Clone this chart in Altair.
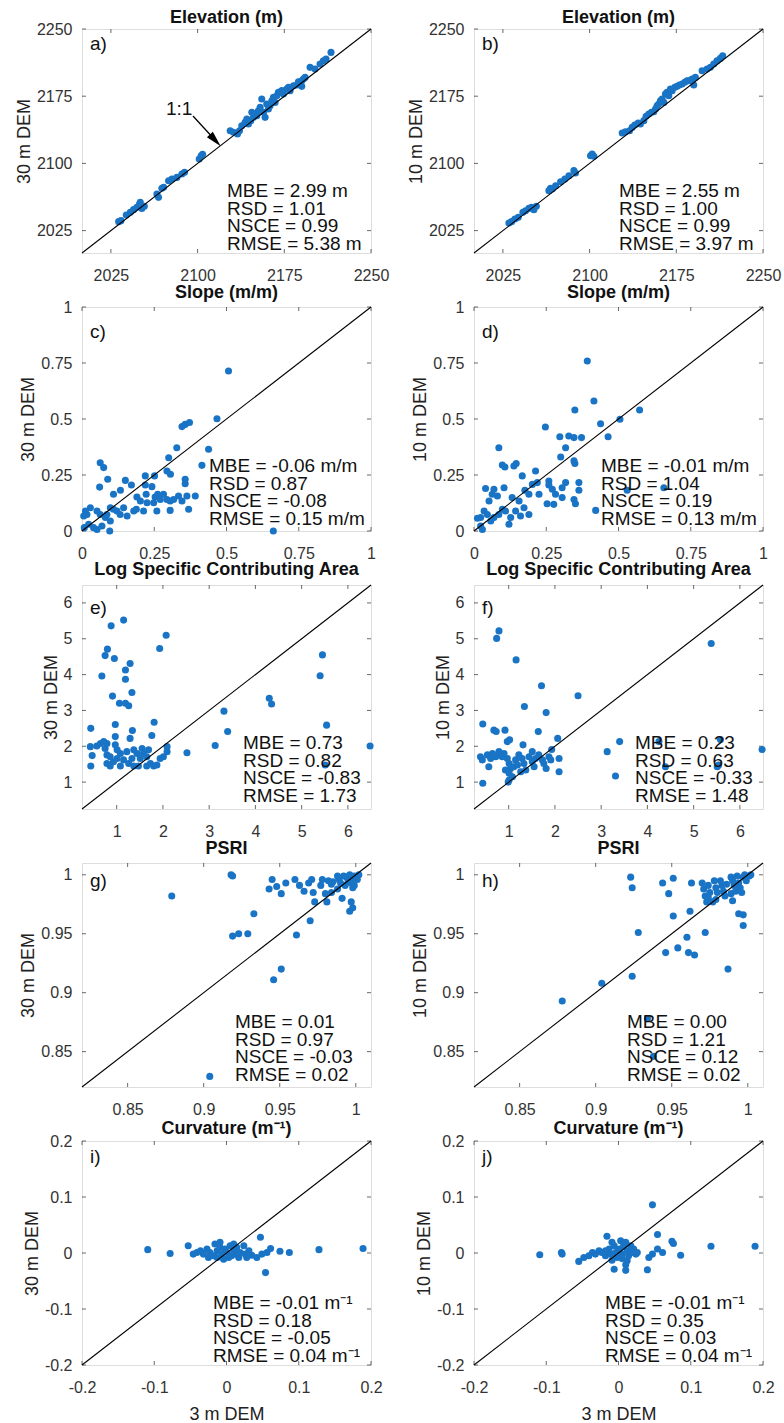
import altair as alt
import pandas as pd

FONT = "Liberation Sans"
DOT = "#1a74c5"

# ---------------- data (x = 3 m DEM, y = coarser DEM) ----------------
elev_30 = [(2031.7,2035.0),(2033.7,2036.1),(2038.3,2042.4),(2041.8,2045.4),(2044.6,2048.4),(2047.5,2051.0),(2049.8,2054.7),(2051.8,2049.8),(2053.9,2052.1),(2050.4,2056.5),
           (2066.2,2062.1),(2064.8,2065.8),(2069.1,2072.2),(2070.6,2073.3),(2074.9,2080.7),(2077.8,2082.6),(2082.1,2084.4),(2086.4,2088.2),(2088.7,2090.0),
           (2101.4,2104.9),(2103.1,2108.6),(2104.3,2110.1),
           (2128.2,2136.5),(2131.0,2134.7),(2134.5,2132.8),(2136.2,2136.5),(2138.2,2142.1),(2141.1,2145.8),(2144.0,2144.0),(2146.0,2147.7),(2148.3,2151.4),(2149.8,2155.1),
           (2152.6,2158.8),(2154.1,2162.6),(2157.0,2157.0),(2158.4,2151.4),(2155.5,2171.9),(2159.8,2166.3),(2162.7,2164.4),(2164.2,2170.0),(2165.6,2173.7),(2168.5,2175.6),
           (2169.9,2179.3),(2172.8,2181.2),(2174.2,2177.4),(2177.1,2183.0),(2178.6,2184.9),(2180.0,2181.2),(2182.9,2186.7),(2185.8,2187.5),(2187.2,2191.2),(2188.6,2188.6),
           (2190.1,2192.3),(2191.5,2194.2),(2193.0,2196.0),(2190.1,2186.0),(2197.3,2207.2),(2201.6,2205.3),(2205.9,2210.9),(2208.8,2214.6),(2211.1,2216.5),(2215.4,2223.9),
           (2151.2,2153.3),(2161.3,2160.7),(2167.0,2168.1),(2146.9,2157.0),(2142.6,2149.5)]
elev_10 = [(2030.2,2033.5),(2032.5,2035.0),(2035.4,2037.9),(2038.3,2039.8),(2042.3,2045.4),(2044.6,2047.2),(2047.5,2049.8),(2049.8,2051.0),(2051.8,2048.4),(2053.9,2052.1),
           (2064.8,2069.6),(2066.2,2072.2),(2067.7,2071.4),(2070.6,2075.1),(2074.9,2079.6),(2078.6,2082.6),(2082.1,2086.3),(2086.4,2091.9),(2087.8,2089.3),
           (2100.8,2108.6),(2102.2,2110.5),(2103.7,2107.9),
           (2128.2,2133.9),(2131.0,2135.4),(2134.5,2136.5),(2136.8,2140.2),(2139.1,2142.8),(2142.0,2145.1),(2144.0,2144.0),(2146.9,2147.7),(2148.9,2152.5),(2151.2,2155.1),
           (2153.5,2157.0),(2155.5,2157.7),(2157.0,2160.7),(2158.4,2164.4),(2159.8,2166.3),(2161.3,2170.0),(2162.7,2171.9),(2164.2,2168.1),(2165.6,2177.4),(2167.0,2179.3),
           (2168.5,2175.6),(2169.9,2183.0),(2171.4,2181.2),(2173.7,2184.9),(2175.7,2186.0),(2177.7,2187.5),(2180.0,2188.6),(2182.3,2190.5),(2184.3,2192.3),(2185.8,2192.3),
           (2188.6,2194.2),(2190.1,2187.5),(2191.5,2196.0),(2197.3,2203.5),(2201.6,2205.3),(2204.5,2207.2),(2207.4,2210.9),(2210.2,2214.6),(2213.1,2217.2),(2215.1,2220.2)]
slope_30 = [(0.507,0.714),(0.467,0.501),(0.438,0.365),(0.415,0.293),(0.346,0.466),(0.357,0.476),(0.372,0.484),(0.328,0.372),(0.300,0.327),(0.306,0.253),
            (0.294,0.268),(0.357,0.231),(0.357,0.211),(0.251,0.246),(0.219,0.246),(0.219,0.205),(0.242,0.198),(0.150,0.226),(0.171,0.205),(0.133,0.182),
            (0.089,0.231),(0.109,0.164),(0.063,0.305),(0.075,0.283),(0.061,0.196),(0.190,0.152),(0.202,0.134),(0.222,0.164),(0.225,0.126),(0.248,0.126),
            (0.253,0.152),(0.262,0.164),(0.271,0.141),(0.282,0.164),(0.294,0.141),(0.305,0.134),(0.317,0.141),(0.334,0.156),(0.346,0.134),(0.363,0.156),
            (0.392,0.156),(0.369,0.097),(0.305,0.092),(0.259,0.089),(0.213,0.089),(0.188,0.097),(0.098,0.104),(0.109,0.097),(0.121,0.089),(0.132,0.074),
            (0.144,0.104),(0.156,0.067),(0.179,0.089),(0.098,0.045),(0.081,0.060),(0.063,0.074),(0.052,0.089),(0.029,0.104),(0.017,0.074),(0.012,0.089),
            (0.023,0.030),(0.040,0.015),(0.052,0.007),(0.069,0.022),(0.086,0.074),(0.096,0.000),(0.006,0.067),(0.008,0.015),(0.662,0.000)]
slope_10 = [(0.392,0.759),(0.415,0.580),(0.573,0.540),(0.349,0.540),(0.505,0.499),(0.438,0.479),(0.464,0.421),(0.372,0.417),(0.297,0.421),(0.328,0.424),
            (0.346,0.417),(0.247,0.464),(0.086,0.372),(0.317,0.372),(0.300,0.330),(0.346,0.313),(0.349,0.301),(0.657,0.193),(0.530,0.182),(0.421,0.092),
            (0.098,0.295),(0.107,0.286),(0.138,0.290),(0.146,0.301),(0.167,0.246),(0.213,0.268),(0.040,0.190),(0.063,0.164),(0.069,0.186),(0.052,0.134),
            (0.081,0.156),(0.104,0.193),(0.132,0.149),(0.156,0.134),(0.176,0.182),(0.190,0.164),(0.202,0.208),(0.219,0.216),(0.225,0.164),(0.259,0.223),
            (0.259,0.205),(0.271,0.186),(0.282,0.164),(0.253,0.122),(0.276,0.119),(0.305,0.193),(0.305,0.149),(0.317,0.216),(0.363,0.216),(0.363,0.182),
            (0.346,0.141),(0.351,0.122),(0.173,0.104),(0.190,0.074),(0.161,0.067),(0.144,0.089),(0.127,0.060),(0.121,0.030),(0.109,0.089),(0.098,0.097),
            (0.086,0.074),(0.069,0.060),(0.058,0.045),(0.046,0.074),(0.035,0.089),(0.023,0.060),(0.029,0.007),(0.023,0.022),(0.012,0.057)]
sca_30 = [(1.15,5.52),(0.88,5.36),(2.07,5.10),(1.93,4.73),(0.80,4.71),(0.75,4.53),(0.95,4.45),(1.29,4.31),(1.19,4.13),(1.19,3.87),
          (0.68,3.96),(1.33,3.50),(0.91,3.40),(1.06,3.20),(1.19,3.20),(1.26,3.13),(5.45,4.55),(5.40,3.97),(4.30,3.34),(4.35,3.18),
          (3.32,2.98),(3.40,2.41),(5.54,2.59),(1.81,2.67),(1.76,2.30),(1.34,2.44),(0.97,2.61),(0.44,2.50),(3.13,2.02),(2.52,1.82),
          (6.48,2.01),(5.51,1.48),(2.09,1.99),(2.09,1.85),(2.01,1.71),(0.43,1.99),(0.47,1.74),(0.44,1.45),
          (0.57,2.01),(0.65,2.08),(0.72,2.13),(0.75,1.94),(0.86,1.71),(0.79,1.52),(0.93,1.57),(0.97,2.04),(1.01,1.90),(1.08,1.80),
          (1.01,1.66),(1.15,1.62),(1.22,1.85),(1.26,1.52),(1.33,1.66),(1.37,1.90),(1.44,1.80),(1.47,1.45),(1.51,1.66),(1.55,1.94),
          (1.58,1.80),(1.65,1.71),(1.69,1.90),(1.73,1.52),(1.80,1.45),(1.87,1.48),(1.94,1.66),(1.65,1.45),(1.37,1.45),(1.08,1.45),
          (0.86,1.45),(0.79,1.76),(1.29,2.22),(0.97,2.27),(0.79,2.08)]
sca_10 = [(0.79,5.22),(0.74,5.01),(1.16,4.41),(5.38,4.87),(1.71,3.69),(2.50,3.41),(1.34,3.11),(1.81,2.94),(0.44,2.62),(0.68,2.45),
          (0.73,2.41),(0.92,2.45),(1.64,2.41),(2.06,2.22),(0.97,2.13),(1.02,2.18),(3.40,2.13),(3.13,1.85),(1.93,1.91),(1.31,2.04),
          (6.48,1.91),(5.58,2.19),(4.25,2.13),(5.51,1.43),(5.54,1.48),(4.39,1.43),(3.31,1.17),(2.09,1.29),(0.44,0.97),(0.99,1.00),
          (2.09,1.66),(1.81,1.38),
          (0.39,1.71),(0.43,1.62),(0.54,1.76),(0.61,1.66),(0.65,1.80),(0.72,1.71),(0.79,1.85),(0.86,1.71),(0.90,1.80),(0.97,1.66),
          (1.01,1.52),(1.04,1.38),(0.93,1.34),(1.01,1.25),(1.08,1.15),(1.11,1.43),(1.15,1.62),(1.22,1.76),(1.29,1.66),(1.33,1.52),
          (1.37,1.34),(1.26,1.29),(1.19,1.48),(1.44,1.71),(1.51,1.57),(1.55,1.43),(1.58,1.66),(1.65,1.76),(1.73,1.62),(1.76,1.52),
          (1.87,1.71),(1.91,1.62),(1.51,1.85),(0.57,1.43),(1.01,1.06)]
psri_30 = [(0.879,0.982),(0.918,1.000),(0.919,0.999),(0.919,0.948),(0.923,0.950),(0.929,0.950),(0.933,0.967),(0.946,0.911),(0.951,0.920),(0.961,0.949),
           (0.970,0.961),(0.904,0.829),(0.943,0.988),(0.945,0.996),(0.948,0.990),(0.951,0.984),(0.954,0.993),(0.960,0.996),(0.963,0.991),(0.966,0.986),
           (0.969,0.993),(0.971,0.996),(0.972,0.985),(0.973,0.977),(0.978,0.996),(0.980,0.984),(0.981,0.977),(0.982,0.995),(0.984,0.992),(0.985,0.994),
           (0.989,0.996),(0.991,0.980),(0.993,0.991),(0.994,0.998),(0.996,1.000),(0.997,0.993),(0.998,0.989),(0.996,0.969),(0.998,0.972),(0.997,0.977),
           (0.999,0.999),(1.001,0.996),(1.002,1.000),(0.992,0.999),(0.988,0.999),(0.977,0.991),(0.984,0.985),(0.988,0.988),(0.990,0.993),(0.995,0.995),
           (0.998,0.995),(0.999,0.991)]
psri_10 = [(0.878,0.893),(0.904,0.908),(0.924,0.914),(0.928,0.951),(0.923,0.998),(0.924,0.989),(0.944,0.993),(0.951,0.997),(0.948,0.984),(0.951,0.965),
           (0.962,0.969),(0.946,0.934),(0.954,0.938),(0.960,0.947),(0.961,0.934),(0.965,0.932),(0.972,0.951),(0.987,0.920),(0.963,0.993),(0.994,0.967),
           (0.997,0.966),(0.997,0.957),(0.990,0.978),(0.979,0.979),(0.934,0.878),(0.938,0.846),
           (0.970,0.993),(0.971,0.988),(0.972,0.982),(0.973,0.977),(0.974,0.991),(0.975,0.985),(0.978,0.995),(0.979,0.989),(0.980,0.985),(0.982,0.995),
           (0.983,0.991),(0.984,0.986),(0.985,0.982),(0.986,0.992),(0.989,0.998),(0.990,0.995),(0.991,0.991),(0.992,0.986),(0.993,0.999),(0.994,0.993),
           (0.995,0.989),(0.996,0.985),(0.997,0.998),(0.998,1.000),(0.999,0.995),(1.001,0.999),(1.002,1.000),(0.989,0.984),(0.977,0.977),(0.974,0.981)]
curv_30 = [(-0.109,0.006),(-0.078,-0.001),(-0.053,0.013),(-0.046,-0.002),(0.047,0.028),(0.054,-0.035),(0.061,0.008),(0.074,0.003),(0.087,0.001),(0.128,0.006),
           (0.189,0.008),(0.042,-0.008),(0.049,-0.002),(0.056,0.001),
           (-0.041,0.001),(-0.036,0.004),(-0.032,-0.002),(-0.027,0.007),(-0.023,0.001),(-0.018,-0.005),(-0.016,0.016),(-0.013,0.004),(-0.009,0.010),(-0.006,-0.002),
           (-0.004,-0.011),(-0.002,0.007),(0.001,0.001),(0.005,0.013),(0.007,-0.005),(0.010,0.004),(0.012,-0.002),(0.014,0.010),(0.017,-0.008),(0.019,0.001),
           (0.024,0.013),(0.026,-0.002),(0.028,-0.008),(0.031,0.004),(0.010,0.016),(-0.009,0.019),(-0.025,-0.008),(-0.013,-0.008),(0.003,-0.008),(0.035,-0.004)]
curv_10 = [(-0.109,-0.003),(-0.079,0.001),(-0.078,-0.002),(0.047,0.086),(0.054,0.033),(0.074,0.021),(0.076,0.017),(0.086,-0.004),(0.128,0.012),(0.189,0.012),
           (0.040,-0.030),(-0.006,-0.029),(-0.016,0.030),(-0.055,-0.015),(-0.048,-0.008),(-0.041,-0.005),(0.061,0.001),(0.047,-0.002),(0.042,-0.008),(0.054,0.007),
           (0.010,-0.021),(0.012,-0.014),
           (-0.036,0.001),(-0.032,-0.002),(-0.027,0.004),(-0.023,0.001),(-0.018,-0.005),(-0.013,0.007),(-0.011,-0.002),(-0.009,0.019),(-0.006,0.013),(-0.004,0.001),
           (-0.002,-0.008),(0.001,0.007),(0.003,0.022),(0.005,-0.002),(0.007,0.013),(0.010,0.019),(0.012,0.004),(0.014,-0.005),(0.017,0.013),(0.019,0.001),
           (0.021,0.007),(0.024,-0.002),(0.026,0.001),(-0.009,-0.013),(0.005,-0.010),(-0.018,0.004),(0.010,-0.031)]

# axis settings per variable
domains = {"elev": [2000, 2250], "slope": [0, 1], "sca": [0.25, 6.5], "psri": [0.82, 1.01], "curv": [-0.2, 0.2]}
tick_vals = {"elev": [2025, 2100, 2175, 2250], "slope": [0, 0.25, 0.5, 0.75, 1], "sca": [1, 2, 3, 4, 5, 6],
             "psri": [0.85, 0.9, 0.95, 1], "curv": [-0.2, -0.1, 0, 0.1, 0.2]}
titles = {"elev": "Elevation (m)", "slope": "Slope (m/m)", "sca": "Log Specific Contributing Area",
          "psri": "PSRI", "curv": "Curvature (m\u207b\u00b9)"}

stats = {
    "a": ["MBE = 2.99 m", "RSD = 1.01", "NSCE = 0.99", "RMSE = 5.38 m"],
    "b": ["MBE = 2.55 m", "RSD = 1.00", "NSCE = 0.99", "RMSE = 3.97 m"],
    "c": ["MBE = -0.06 m/m", "RSD = 0.87", "NSCE = -0.08", "RMSE = 0.15 m/m"],
    "d": ["MBE = -0.01 m/m", "RSD = 1.04", "NSCE = 0.19", "RMSE = 0.13 m/m"],
    "e": ["MBE = 0.73", "RSD = 0.82", "NSCE = -0.83", "RMSE = 1.73"],
    "f": ["MBE = 0.23", "RSD = 0.63", "NSCE = -0.33", "RMSE = 1.48"],
    "g": ["MBE = 0.01", "RSD = 0.97", "NSCE = -0.03", "RMSE = 0.02"],
    "h": ["MBE = 0.00", "RSD = 1.21", "NSCE = 0.12", "RMSE = 0.02"],
    "i": ["MBE = -0.01 m\u207b\u00b9", "RSD = 0.18", "NSCE = -0.05", "RMSE = 0.04 m\u207b\u00b9"],
    "j": ["MBE = -0.01 m\u207b\u00b9", "RSD = 0.35", "NSCE = 0.03", "RMSE = 0.04 m\u207b\u00b9"],
}

# layout (pixel offsets inside each 289x224 plot)
W, H = 289, 224
stat_pos = {"elev": (145, 153), "slope": (127, 150), "sca": (161, 149), "psri": (153, 150), "curv": (131, 153)}
label_y = {"elev": 14, "slope": 24, "sca": 22, "psri": 17, "curv": 15}
title_y = {"elev": -6, "slope": -9, "sca": -10, "psri": -9, "curv": -7}
TICK = 4

panels = [
    ("a", "elev", elev_30, "30 m DEM"), ("b", "elev", elev_10, "10 m DEM"),
    ("c", "slope", slope_30, "30 m DEM"), ("d", "slope", slope_10, "10 m DEM"),
    ("e", "sca", sca_30, "30 m DEM"), ("f", "sca", sca_10, "10 m DEM"),
    ("g", "psri", psri_30, "30 m DEM"), ("h", "psri", psri_10, "10 m DEM"),
    ("i", "curv", curv_30, "30 m DEM"), ("j", "curv", curv_10, "10 m DEM"),
]

ONE = [{"k": 0}]


def make_panel(key, var, pts, ytitle):
    lo, hi = domains[var]
    df = pd.DataFrame(pts, columns=["x", "y"])
    diag = pd.DataFrame({"x": [lo, hi], "y": [lo, hi]})
    tdf_x = pd.DataFrame({"x": tick_vals[var]})
    tdf_y = pd.DataFrame({"y": tick_vals[var]})
    common = dict(grid=False, domain=False, ticks=False, labelFont=FONT, labelFontSize=16,
                  labelColor="#333333", labelOverlap=False, labelFlush=False,
                  labelExpr="'' + datum.value", values=tick_vals[var],
                  titleFont=FONT, titleFontSize=18, titleFontWeight="normal", titleColor="#222222")
    xaxis = alt.Axis(labelPadding=14, titlePadding=10, **common)
    yaxis = alt.Axis(labelPadding=10, titlePadding=3, **common)
    sc = alt.Scale(domain=[lo, hi], nice=False, zero=False)
    if var == "curv":
        xenc = alt.X("x:Q", scale=sc, axis=xaxis, title="3 m DEM")
    else:
        xenc = alt.X("x:Q", scale=sc, axis=xaxis, title=None)
    yenc = alt.Y("y:Q", scale=sc, axis=yaxis, title=ytitle)

    points = alt.Chart(df).mark_circle(size=50, color=DOT, opacity=1).encode(x=xenc, y=yenc)
    line = alt.Chart(diag).mark_line(color="black", strokeWidth=1.1).encode(x=xenc, y=yenc)
    # inward tick marks on all four sides (MATLAB box style)
    tk = dict(color="#444444", strokeWidth=0.8)
    tb = alt.Chart(tdf_x).mark_rule(**tk).encode(x=xenc, y=alt.value(H), y2=alt.value(H - TICK))
    tt = alt.Chart(tdf_x).mark_rule(**tk).encode(x=xenc, y=alt.value(0), y2=alt.value(TICK))
    tl = alt.Chart(tdf_y).mark_rule(**tk).encode(y=yenc, x=alt.value(0), x2=alt.value(TICK))
    tr = alt.Chart(tdf_y).mark_rule(**tk).encode(y=yenc, x=alt.value(W), x2=alt.value(W - TICK))
    sx, sy = stat_pos[var]
    txt = alt.Chart(alt.Data(values=ONE)).mark_text(
        align="left", baseline="top", font=FONT, fontSize=19, lineHeight=17.6, color="#111111"
    ).encode(x=alt.value(sx), y=alt.value(sy), text=alt.value(stats[key]))
    lab = alt.Chart(alt.Data(values=ONE)).mark_text(
        align="left", baseline="middle", font=FONT, fontSize=19, color="#111111"
    ).encode(x=alt.value(8), y=alt.value(label_y[var] + 1), text=alt.value(key + ")"))
    ttl = alt.Chart(alt.Data(values=ONE)).mark_text(
        align="center", baseline="alphabetic", font=FONT, fontSize=18, fontWeight="bold", color="#111111"
    ).encode(x=alt.value(W / 2), y=alt.value(title_y[var]), text=alt.value(titles[var]))
    layers = [tb, tt, tl, tr, points, line, txt, lab, ttl]
    if key == "a":
        one = alt.Chart(alt.Data(values=ONE)).mark_text(
            align="left", baseline="middle", font=FONT, fontSize=19, color="#111111"
        ).encode(x=alt.value(84), y=alt.value(80), text=alt.value("1:1"))
        shaft = alt.Chart(alt.Data(values=ONE)).mark_rule(color="black", strokeWidth=1.3).encode(
            x=alt.value(111), y=alt.value(87), x2=alt.value(133), y2=alt.value(111))
        head = alt.Chart(alt.Data(values=ONE)).mark_point(
            shape="M0,-1L0.5,1L-0.5,1Z", filled=True, color="black", opacity=1, size=256, angle=137.5
        ).encode(x=alt.value(133.3), y=alt.value(111.4))
        layers += [one, shaft, head]
    return alt.layer(*layers).properties(width=W, height=H)


charts = [make_panel(*p) for p in panels]

chart = alt.concat(
    *charts, columns=2, spacing=alt.RowColnumber(row=54, column=103), bounds="flush"
).properties(
    padding={"left": 14, "top": 8, "right": 0, "bottom": 0}
).configure_view(
    stroke="black", strokeWidth=1
).configure(background="white")

chart.save("out.html", embed_options={"renderer": "svg", "actions": False})
